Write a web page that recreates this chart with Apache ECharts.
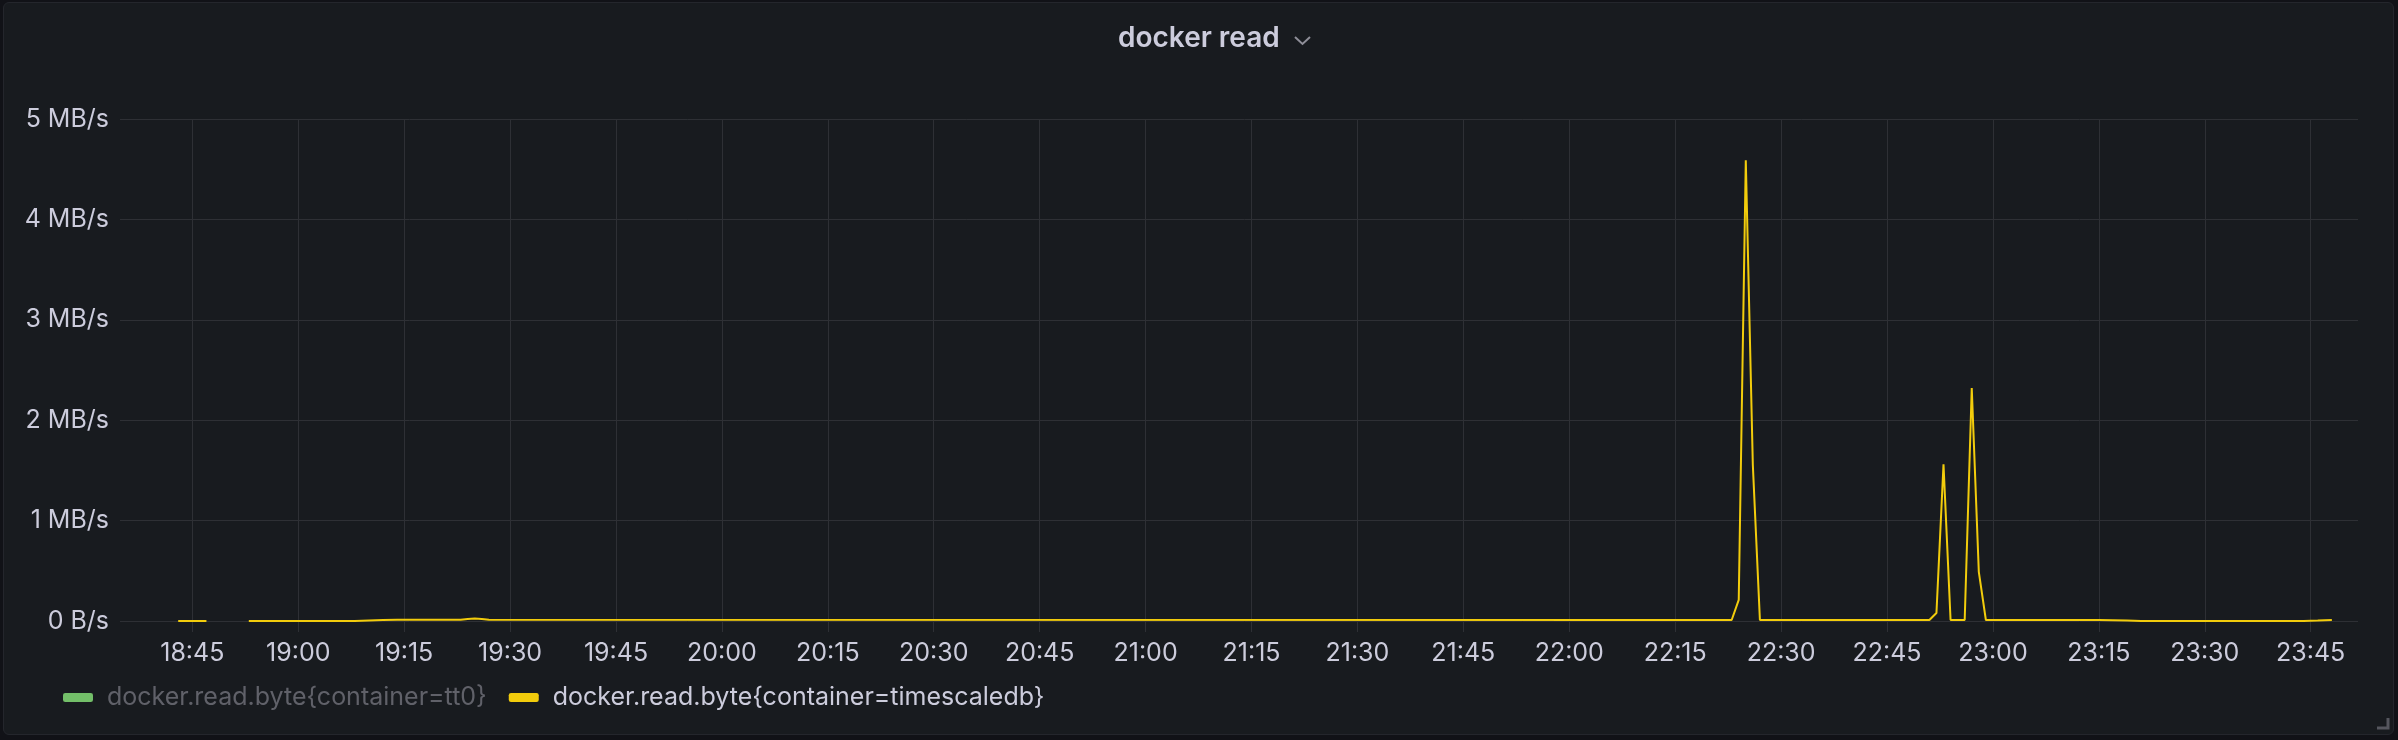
<!DOCTYPE html>
<html>
<head>
<meta charset="utf-8">
<script src="https://cdn.jsdelivr.net/npm/echarts@6/dist/echarts.min.js"></script>
<style>
  html, body { margin: 0; padding: 0; background: #111217; width: 2398px; height: 740px; overflow: hidden; }
  #panel { position: absolute; left: 3px; top: 2px; width: 2389px; height: 731px; background: #181b1f; border: 1px solid #24262c; border-radius: 6px; }
  #chart { position: absolute; left: 0; top: 0; width: 2398px; height: 740px; }
</style>
</head>
<body>
<div id="panel"></div>
<div id="chart"></div>
<script>
// ---- data ----
const title = 'docker read';
const seriesNames = ['docker.read.byte{container=tt0}', 'docker.read.byte{container=timescaledb}'];
const tickLabels = ['18:45','19:00','19:15','19:30','19:45','20:00','20:15','20:30','20:45','21:00','21:15','21:30','21:45','22:00','22:15','22:30','22:45','23:00','23:15','23:30','23:45'];
const yTicks = [0, 1, 2, 3, 4, 5];
// timescaledb read rate (MB/s); null = gap in data
const tsTimes  = ['18:43','18:47', null, '18:53','19:08','19:09','19:10','19:12','19:14','19:23','19:24','19:25','19:26','19:27','22:23','22:24','22:25','22:26','22:27','22:51','22:52','22:53','22:54','22:56','22:57','22:58','22:59','23:15','23:19','23:21','23:44','23:46','23:48'];
const tsValues = [0,      0,      null,  0,      0,      0.003,  0.006,  0.01,   0.012,  0.012,  0.02,   0.025,  0.02,   0.012,  0.01,   0.21,   4.59,   1.55,   0.01,   0.01,   0.08,   1.56,   0.01,   0.01,   2.32,   0.49,   0.01,   0.01,   0.004,  0,      0,      0.004,  0.01];
const tt0Values = []; // hidden series

// ---- helpers ----
function toMin(s) { const p = s.split(':').map(Number); return p[0] * 60 + p[1] + (p[2] || 0) / 60; }
function fmt(m) { const h = Math.floor(m / 60); const mm = Math.round(m - h * 60); return String(h).padStart(2, '0') + ':' + String(mm).padStart(2, '0'); }

const tsData = tsTimes.map((t, i) => t === null ? [null, null] : [toMin(t), tsValues[i]]);
const tickMinutes = tickLabels.map(toMin);

const FONT = 'Inter';
const TXT = '#ccccdc';
const GRID = '#2e3035';
const YELLOW = '#F2CC0C';

const chart = echarts.init(document.getElementById('chart'), null, { renderer: 'canvas' });
chart.setOption({
  backgroundColor: 'transparent',
  animation: false,
  textStyle: { fontFamily: FONT },
  grid: { left: 131, right: 40, top: 119, bottom: 119, containLabel: false },
  xAxis: {
    type: 'value',
    min: toMin('18:36:19'),
    max: toMin('23:51:42'),
    axisLine: { show: false },
    axisTick: { show: true, length: 11, lineStyle: { color: GRID, width: 1 }, customValues: tickMinutes },
    splitLine: { show: true, lineStyle: { color: GRID, width: 1 } },
    axisLabel: { customValues: tickMinutes, color: TXT, fontSize: 25, fontFamily: FONT, margin: 20, formatter: v => fmt(v) }
  },
  yAxis: {
    type: 'value',
    min: 0, max: 5, interval: 1,
    axisLine: { show: false },
    axisTick: { show: true, length: 11, lineStyle: { color: GRID, width: 1 } },
    splitLine: { show: true, lineStyle: { color: GRID, width: 1 } },
    axisLabel: { color: TXT, fontSize: 25, fontFamily: FONT, margin: 22, formatter: v => v === 0 ? '0 B/s' : v + ' MB/s' }
  },
  legend: {
    left: 58, top: 680,
    itemWidth: 30, itemHeight: 9, itemGap: 22,
    icon: 'roundRect',
    textStyle: { color: TXT, fontSize: 25, fontFamily: FONT, padding: [0, 0, 0, 9] },
    data: [
      { name: seriesNames[0], textStyle: { color: '#606169' } },
      { name: seriesNames[1] }
    ]
  },
  series: [
    { name: seriesNames[0], type: 'line', color: '#73BF69', data: tt0Values, showSymbol: false },
    { name: seriesNames[1], type: 'line', color: YELLOW, data: tsData, showSymbol: false, connectNulls: false,
      lineStyle: { width: 2, color: YELLOW } }
  ],
  graphic: [
    { type: 'text', left: 1118, top: 25, style: { text: title, fill: TXT, font: '600 28px Inter' } },
    { type: 'polyline', shape: { points: [[1295, 37], [1302.5, 44], [1310, 37]] }, style: { stroke: '#8e8e98', lineWidth: 2, fill: null } },
    { type: 'polyline', shape: { points: [[2388, 718], [2388, 728], [2377, 728]] }, style: { stroke: '#55565e', lineWidth: 3, fill: null } }
  ]
});
</script>
</body>
</html>
